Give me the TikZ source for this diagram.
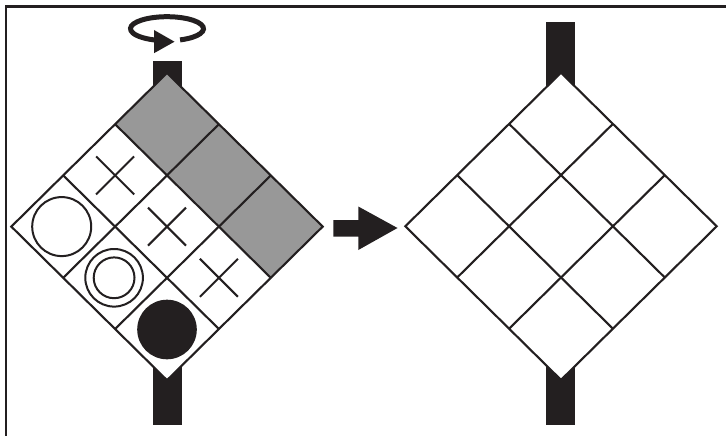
\documentclass[tikz,border=0pt]{standalone}
\usetikzlibrary{calc}
\definecolor{ink}{RGB}{35,31,32}
\definecolor{cellgray}{RGB}{152,152,152}
\begin{document}
\begin{tikzpicture}[x=1pt,y=-1pt, line join=miter,
  frameline/.style={line width=2.4pt, draw=ink},
  gridline/.style={line width=2.1pt, draw=ink},
  barfill/.style={fill=ink},
  markline/.style={line width=2pt, draw=ink},
  boardvec/.style={x={(51.9pt,-51.2pt)}, y={(-51.9pt,-51.2pt)}}]
\useasboundingbox (0,0) rectangle (726,436);
% frame (only top and left edges visible)
\draw[frameline] (5.8,445) -- (5.8,6.6) -- (735,6.6);

% ---------- left board ----------
\fill[barfill] (152.7,60.7) rectangle (181.7,100);
\fill[barfill] (152.7,350) rectangle (181.7,424.7);
\begin{scope}[shift={(167,73)}, boardvec]
  \coordinate (LT) at (0,0);
  \fill[white] (0,0)--(3,0)--(3,3)--(0,3)--cycle;
  \fill[cellgray] (0,0)--(3,0)--(3,1)--(0,1)--cycle;
  \foreach \k in {1,2}{
    \draw[gridline] (\k,0)--(\k,3);
    \draw[gridline] (0,\k)--(3,\k);
  }
  \draw[gridline] (0,0)--(3,0)--(3,3)--(0,3)--cycle;
  \coordinate (c01) at (0.5,1.5);
  \coordinate (c11) at (1.5,1.5);
  \coordinate (c21) at (2.5,1.5);
  \coordinate (c02) at (0.5,2.5);
  \coordinate (c12) at (1.5,2.5);
  \coordinate (c22) at (2.5,2.5);
  \coordinate (LR) at (3,0.5);
\end{scope}
\foreach \c in {c01,c11,c21}{
  \draw[markline] ($(\c)+(-19,-19)$) -- ($(\c)+(19,19)$);
  \draw[markline] ($(\c)+(-19,19)$) -- ($(\c)+(19,-19)$);
}
\draw[markline] ($(c02)+(-1.5,0)$) circle[radius=29.5pt];
\draw[markline] ($(c12)+(-1,0)$) circle[radius=28.8pt];
\draw[markline] ($(c12)+(-1,0)$) circle[radius=20.4pt];
\fill[ink] ($(c22)+(0,0.5)$) circle[radius=29.8pt];

% rotation arrow
\coordinate (rot) at (167,28.7);
\draw[line width=5pt, draw=ink] (rot) ++(69:36.5 and 12)
  arc[start angle=69, end angle=-255, x radius=36.5, y radius=12];
\fill[ink] (154,30) -- (174.5,41.7) -- (154,53.2) -- cycle;

% ---------- middle arrow ----------
\fill[ink] (333.3,220) -- (358.3,220) -- (358.3,206.5) -- (397.5,228)
  -- (358.3,250) -- (358.3,236.7) -- (333.3,236.7) -- cycle;

% ---------- right board ----------
\fill[barfill] (546.3,22.3) rectangle (575.3,100);
\fill[barfill] (546.3,350) rectangle (575.3,424.7);
\begin{scope}[shift={(561,72.7)}, boardvec]
  \coordinate (RT) at (0,0);
  \fill[white] (0,0)--(3,0)--(3,3)--(0,3)--cycle;
  \foreach \k in {1,2}{
    \draw[gridline] (\k,0)--(\k,3);
    \draw[gridline] (0,\k)--(3,\k);
  }
  \draw[gridline] (0,0)--(3,0)--(3,3)--(0,3)--cycle;
\end{scope}
\end{tikzpicture}
\end{document}
